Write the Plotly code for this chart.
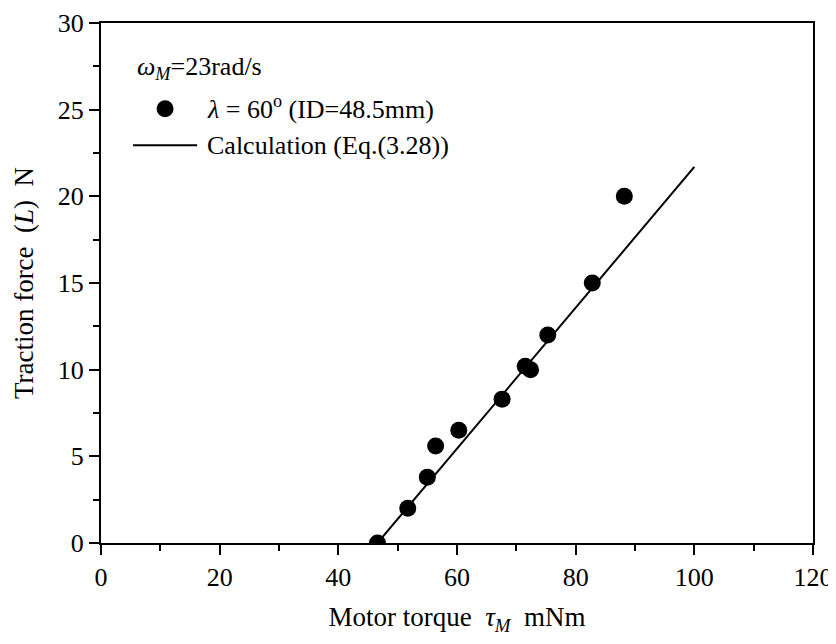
import plotly.graph_objects as go

# measured points (motor torque mNm, traction force N)
torque = [46.6, 51.7, 55.0, 56.4, 60.3, 67.6, 71.5, 72.4, 75.3, 82.8, 88.2]
force = [0.0, 2.0, 3.8, 5.6, 6.5, 8.3, 10.2, 10.0, 12.0, 15.0, 20.0]

# calculated line (Eq.(3.28))
calc_torque = [46.6, 100.0]
calc_force = [0.0, 21.7]

legend_head = "<i>ω</i><sub><i>M</i></sub>=23rad/s"
label_meas = "<i>λ</i> = 60<sup>o</sup> (ID=48.5mm)"
label_calc = "Calculation (Eq.(3.28))"

FONT = "Liberation Serif"

fig = go.Figure()

fig.add_trace(go.Scatter(
    x=torque, y=force, mode="markers", cliponaxis=True,
    marker=dict(color="black", size=17, symbol="circle"),
    name=label_meas, showlegend=False,
))

fig.add_trace(go.Scatter(
    x=calc_torque, y=calc_force, mode="lines",
    line=dict(color="black", width=2),
    name=label_calc, showlegend=False,
))

axis_common = dict(
    showline=True, linecolor="black", linewidth=2, mirror=True,
    ticks="outside", ticklen=10, tickwidth=2, tickcolor="black",
    showgrid=False, zeroline=False,
    tickfont=dict(family=FONT, size=26, color="black"),
)

fig.update_xaxes(
    range=[0, 120], dtick=20,
    minor=dict(dtick=10, ticks="outside", ticklen=6, tickwidth=2, tickcolor="black"),
    title=dict(text="Motor torque  <i>τ</i><sub><i>M</i></sub>  mNm",
               font=dict(family=FONT, size=27, color="black"), standoff=20),
    **axis_common,
)
fig.update_yaxes(
    range=[0, 30], dtick=5,
    minor=dict(dtick=2.5, ticks="outside", ticklen=6, tickwidth=2, tickcolor="black"),
    title=dict(text="Traction force  (<i>L</i>)  N",
               font=dict(family=FONT, size=27, color="black"), standoff=16),
    **axis_common,
)

# hand-made legend inside the plot (paper coordinates)
fig.add_annotation(x=0.048, y=0.913, xref="paper", yref="paper",
                   xanchor="left", yanchor="middle", showarrow=False,
                   text=legend_head, font=dict(family=FONT, size=26, color="black"))
fig.add_shape(type="circle", xref="paper", yref="paper",
              xsizemode="pixel", ysizemode="pixel",
              xanchor=0.09, yanchor=0.835, x0=-8.5, x1=8.5, y0=-8.5, y1=8.5,
              fillcolor="black", line=dict(color="black", width=0))
fig.add_annotation(x=0.146, y=0.838, xref="paper", yref="paper",
                   xanchor="left", yanchor="middle", showarrow=False,
                   text=label_meas, font=dict(family=FONT, size=26, color="black"))
fig.add_shape(type="line", xref="paper", yref="paper",
              x0=0.045, x1=0.135, y0=0.765, y1=0.765,
              line=dict(color="black", width=2))
fig.add_annotation(x=0.146, y=0.765, xref="paper", yref="paper",
                   xanchor="left", yanchor="middle", showarrow=False,
                   text=label_calc, font=dict(family=FONT, size=26, color="black"))

# page body has an 8px margin, so the figure is offset by 8px in the window
fig.update_layout(
    width=828, height=628,
    margin=dict(l=93, r=23, t=15, b=93, autoexpand=False),
    plot_bgcolor="white", paper_bgcolor="white",
    font=dict(family=FONT, size=26, color="black"),
    showlegend=False,
)

fig.write_html("out.html")
